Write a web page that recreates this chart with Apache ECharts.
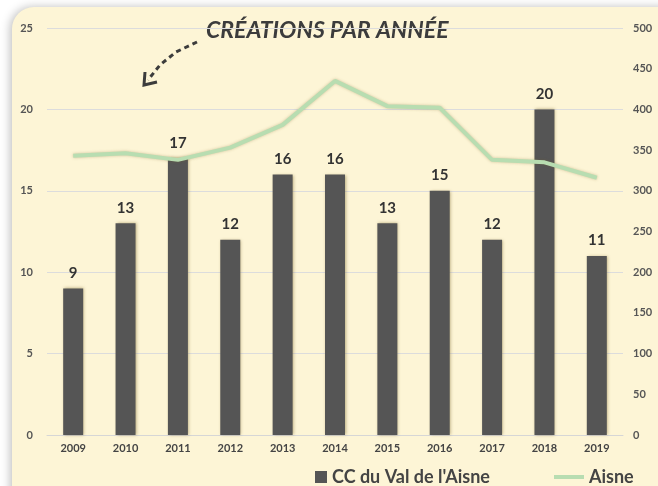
<!DOCTYPE html>
<html>
<head>
<meta charset="utf-8">
<script src="https://cdn.jsdelivr.net/npm/echarts@6/dist/echarts.min.js"></script>
<style>
  html, body { margin: 0; padding: 0; background: #fff; }
  #main { width: 658px; height: 486px; }
</style>
</head>
<body>
<div id="main"></div>
<script>
var years = ['2009', '2010', '2011', '2012', '2013', '2014', '2015', '2016', '2017', '2018', '2019'];
var ccValues = [9, 13, 17, 12, 16, 16, 13, 15, 12, 20, 11];
var aisneValues = [343, 346, 338, 353, 381, 435, 404, 402, 338, 335, 316];

var chart = echarts.init(document.getElementById('main'));
var labelFont = 'Lato';
var legendText = { color: '#444', fontSize: 18, fontWeight: 'bold', fontFamily: labelFont };

var option = {
    backgroundColor: '#fff',
    graphic: [
        {
            type: 'rect', z: -10, silent: true,
            shape: { x: 12, y: 7, width: 680, height: 520, r: 22 },
            style: { fill: '#FDF5D6', shadowBlur: 10, shadowColor: 'rgba(0,0,0,0.25)', shadowOffsetX: -2 }
        },
        {
            type: 'text', left: 206, top: 19, silent: true,
            style: { text: 'CRÉATIONS PAR ANNÉE', fill: '#3c3c3c', font: 'italic bold 23px Lato' }
        },
        {
            type: 'polyline', silent: true,
            shape: { points: [[197, 42], [176, 52], [160, 65], [148, 80]] },
            style: { stroke: '#3c3c3c', lineWidth: 3, lineDash: [5, 4], fill: null }
        },
        {
            type: 'polyline', silent: true,
            shape: { points: [[145, 72], [144, 85], [157, 82]] },
            style: { stroke: '#3c3c3c', lineWidth: 3, fill: null }
        }
    ],
    grid: { left: 47, right: 35, top: 28, bottom: 51 },
    legend: [
        {
            top: 463, left: 310,
            itemWidth: 12, itemHeight: 12,
            textStyle: legendText,
            data: [{ name: "CC du Val de l'Aisne", icon: 'rect' }]
        },
        {
            top: 463, left: 549,
            itemWidth: 30, itemHeight: 4,
            textStyle: legendText,
            data: [{ name: 'Aisne', icon: 'rect' }]
        }
    ],
    xAxis: {
        type: 'category',
        data: years,
        axisTick: { show: false },
        axisLine: { lineStyle: { color: '#d6d6d6', width: 1 } },
        axisLabel: { color: '#444', fontSize: 11, fontWeight: 'bold', fontFamily: labelFont, margin: 8 }
    },
    yAxis: [
        {
            type: 'value', min: 0, max: 25, interval: 5,
            axisLine: { show: false }, axisTick: { show: false },
            splitLine: { lineStyle: { color: '#dcdcdc', width: 1 } },
            axisLabel: { color: '#555', fontSize: 11, fontWeight: 'bold', fontFamily: labelFont, margin: 14 }
        },
        {
            type: 'value', min: 0, max: 500, interval: 50,
            axisLine: { show: false }, axisTick: { show: false },
            splitLine: { show: false },
            axisLabel: { color: '#555', fontSize: 11, fontWeight: 'bold', fontFamily: labelFont, margin: 10, align: 'left' }
        }
    ],
    series: [
        {
            name: "CC du Val de l'Aisne",
            type: 'bar',
            barWidth: 20,
            data: ccValues,
            itemStyle: { color: '#555555', shadowBlur: 3, shadowColor: 'rgba(120,100,40,0.5)', shadowOffsetX: 1 },
            label: {
                show: true, position: 'top', distance: 8,
                color: '#333', fontSize: 15, fontWeight: 'bold', fontFamily: labelFont
            }
        },
        {
            name: 'Aisne',
            type: 'line',
            yAxisIndex: 1,
            data: aisneValues,
            symbol: 'none',
            z: 3,
            lineStyle: { color: '#B8DDB1', width: 4, shadowBlur: 3, shadowColor: 'rgba(120,100,40,0.35)' },
            itemStyle: { color: '#B8DDB1' }
        }
    ]
};
chart.setOption(option);
</script>
</body>
</html>
